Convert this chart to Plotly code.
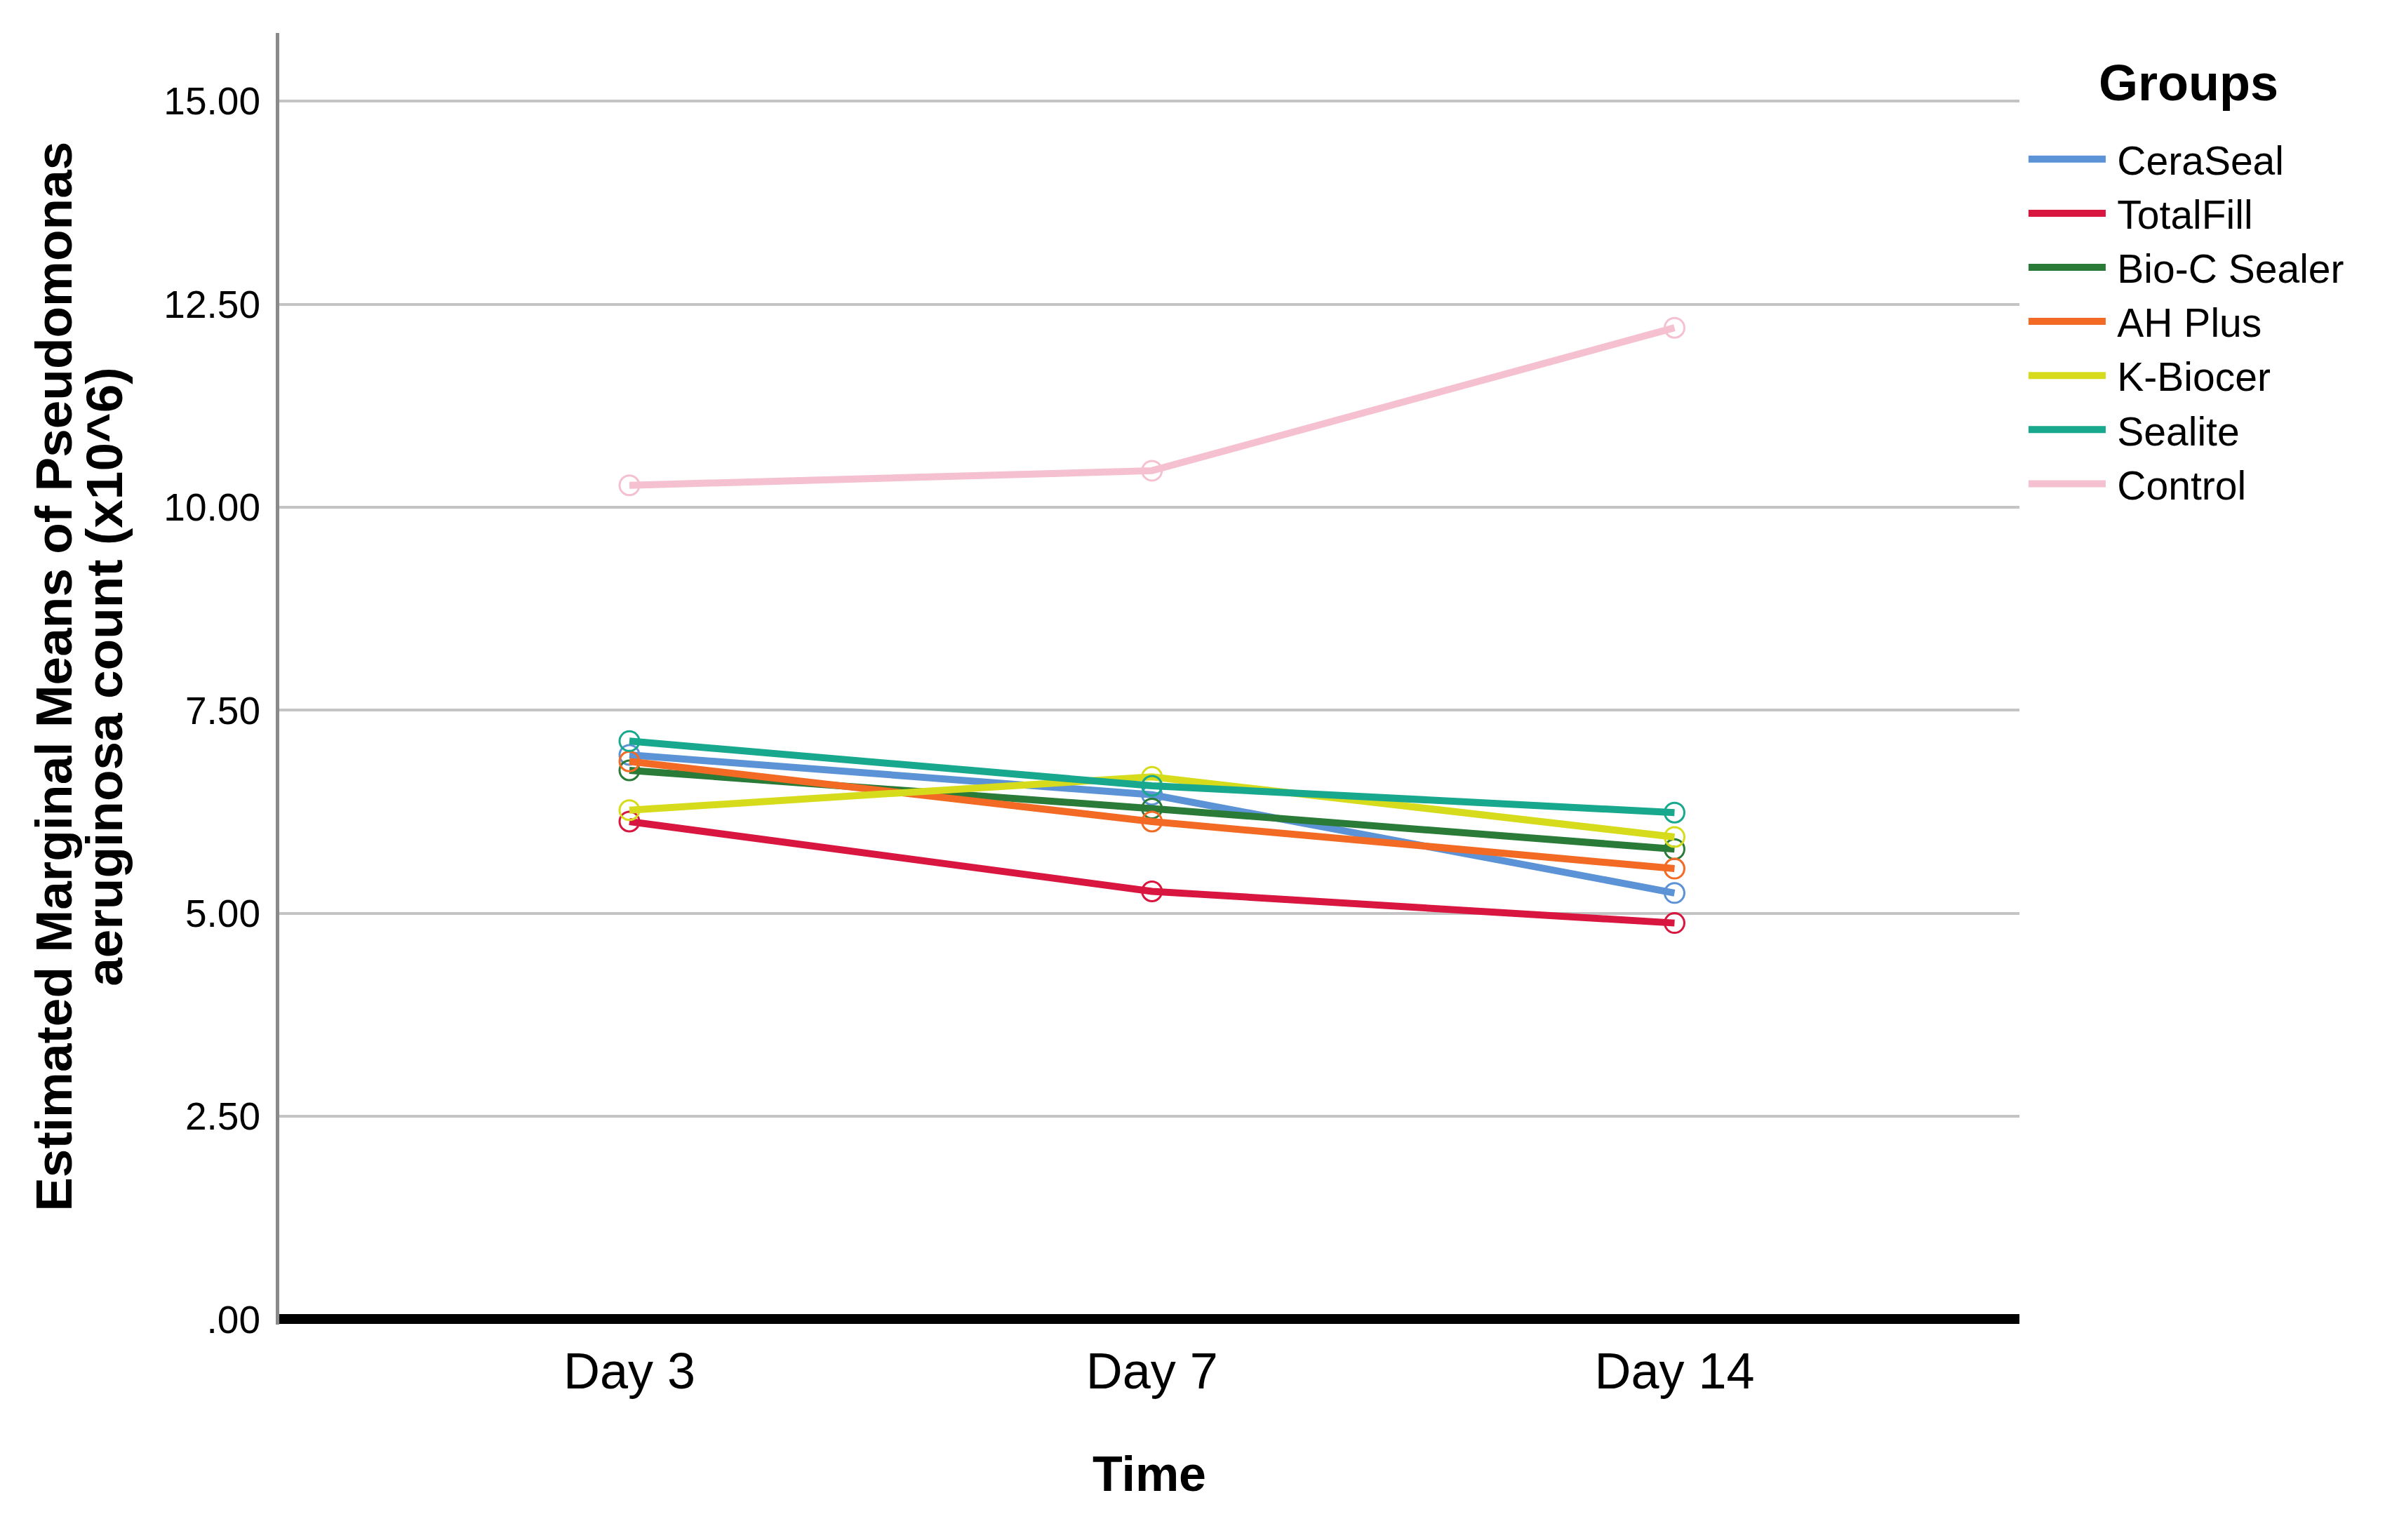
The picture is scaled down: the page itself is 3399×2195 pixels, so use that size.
import plotly.graph_objects as go

days = ["Day 3", "Day 7", "Day 14"]
groups = ["CeraSeal", "TotalFill", "Bio-C Sealer", "AH Plus", "K-Biocer", "Sealite", "Control"]
ceraseal = [6.95, 6.46, 5.25]
totalfill = [6.13, 5.27, 4.88]
bioc = [6.76, 6.29, 5.79]
ahplus = [6.87, 6.13, 5.55]
kbiocer = [6.27, 6.68, 5.94]
sealite = [7.12, 6.57, 6.24]
control = [10.27, 10.45, 12.21]
series_values = [ceraseal, totalfill, bioc, ahplus, kbiocer, sealite, control]
colors = ["#5B93D6", "#D8163F", "#2A7A38", "#F26A24", "#D6DC1C", "#17A88E", "#F5C0CF"]
ytick_vals = [0, 2.5, 5, 7.5, 10, 12.5, 15]
ytick_text = [".00", "2.50", "5.00", "7.50", "10.00", "12.50", "15.00"]
ytitle_lines = ["Estimated Marginal Means of Pseudomonas", "aeruginosa count (x10^6)"]
legend_title = "Groups"
xtitle = "Time"

FONT = "Liberation Sans, Arial, sans-serif"

fig = go.Figure()
for name, vals, col in zip(groups, series_values, colors):
    fig.add_trace(go.Scatter(
        x=days, y=vals, name=name, mode="lines+markers", showlegend=False,
        line=dict(color=col, width=10),
        marker=dict(symbol="circle-open", size=28, color=col, line=dict(width=3, color=col)),
    ))
# legend entries (line only, as in the reference)
for name, col in zip(groups, colors):
    fig.add_trace(go.Scatter(
        x=[None], y=[None], name="\u2009" + name, mode="lines",
        line=dict(color=col, width=10), showlegend=True,
    ))

W, H = 3399, 2195
L, R, T, B = 390, 529, 39, 315
fig.update_layout(
    width=W, height=H,
    margin=dict(l=L, r=R, t=T, b=B),
    plot_bgcolor="white", paper_bgcolor="white",
    font=dict(family=FONT, color="black"),
    showlegend=True,
    legend=dict(
        x=1.0032, xanchor="left", y=0.926, yanchor="top",
        font=dict(size=57, family=FONT),
        itemwidth=110, tracegroupgap=0,
        bgcolor="rgba(0,0,0,0)",
    ),
    xaxis=dict(
        type="category", range=[-0.67, 2.66],
        showgrid=False, showline=False, zeroline=False, ticks="",
        tickfont=dict(size=72, family=FONT), ticklabelstandoff=18,
        title=dict(text="<b>%s</b>" % xtitle, font=dict(size=70, family=FONT), standoff=82),
    ),
    yaxis=dict(
        range=[-0.065, 15.84],
        tickvals=ytick_vals, ticktext=ytick_text,
        tickfont=dict(size=55, family=FONT), ticks="", ticklabelstandoff=11,
        showgrid=True, gridcolor="#C4C4C4", gridwidth=4,
        showline=True, linecolor="#8A8A8A", linewidth=5,
        zeroline=True, zerolinecolor="black", zerolinewidth=14,
    ),
    annotations=[
        dict(text="<b>%s</b>" % ytitle_lines[0], xref="paper", yref="paper",
             x=-0.1294, y=0.5015, xanchor="center", yanchor="middle",
             textangle=-90, showarrow=False, font=dict(size=73, family=FONT)),
        dict(text="<b>%s</b>" % ytitle_lines[1], xref="paper", yref="paper",
             x=-0.1004, y=0.5015, xanchor="center", yanchor="middle",
             textangle=-90, showarrow=False, font=dict(size=73, family=FONT)),
        dict(text="<b>%s</b>" % legend_title, xref="paper", yref="paper",
             x=1.097, y=0.9614, xanchor="center", yanchor="middle",
             showarrow=False, font=dict(size=72, family=FONT)),
    ],
)

fig.write_html("out.html")
